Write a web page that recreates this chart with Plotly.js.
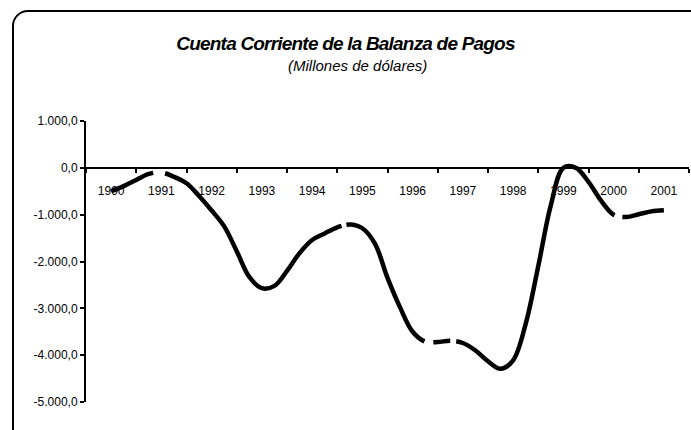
<!DOCTYPE html>
<html><head><meta charset="utf-8">
<script src="https://cdn.plot.ly/plotly-3.0.1.min.js"></script>
<style>
html,body{margin:0;padding:0;overflow:hidden;background:#fff;}
#chart{width:691px;height:430px;position:absolute;left:0;top:0;}
#frame{position:absolute;left:12px;top:10px;width:700px;height:440px;border:2px solid #000;border-radius:16px;pointer-events:none;}
.gtitle{letter-spacing:-0.8px;}
</style></head><body>
<div id="chart"></div><div id="frame"></div>
<script>
// Quarterly positions (years) and current account values (millions of dollars)
const quarterX = [
  1990.00, 1990.25, 1990.50, 1990.75,
  1991.00, 1991.25, 1991.50, 1991.75,
  1992.00, 1992.25, 1992.50, 1992.75,
  1993.00, 1993.25, 1993.50, 1993.75,
  1994.00, 1994.25, 1994.50, 1994.75,
  1995.00, 1995.25, 1995.50, 1995.75,
  1996.00, 1996.25, 1996.50, 1996.75,
  1997.00, 1997.25, 1997.50, 1997.75,
  1998.00, 1998.25, 1998.50, 1998.75,
  1999.00, 1999.25, 1999.50, 1999.75,
  2000.00, 2000.25, 2000.50, 2000.75,
  2001.00
];
const cuentaCorriente = [
  -500, -390, -260, -130,
  -100, -190, -330, -600,
  -910, -1250, -1780, -2330,
  -2570, -2520, -2200, -1820,
  -1540, -1400, -1270, -1210,
  -1290, -1620, -2350, -2980,
  -3500, -3710, -3720, -3690,
  -3740, -3900, -4130, -4290,
  -4110, -3330, -2100, -800,
  0, 0, -300, -700,
  -1000, -1050, -990, -930,
  -906
];
const yearTicks = [1990,1991,1992,1993,1994,1995,1996,1997,1998,1999,2000,2001];
const yearLabels = ['1990','1991','1992','1993','1994','1995','1996','1997','1998','1999','2000','2001'];
const yearBounds = [1989.5,1990.5,1991.5,1992.5,1993.5,1994.5,1995.5,1996.5,1997.5,1998.5,1999.5,2000.5,2001.5];
const yTickVals = [1000, 0, -1000, -2000, -3000, -4000, -5000];
const yTickText = ['1.000,0','0,0','-1.000,0','-2.000,0','-3.000,0','-4.000,0','-5.000,0'];

const FONT = 'Liberation Sans, Arial, sans-serif';
const yMin = -5000, yMax = 1000;

const trace = {
  x: quarterX, y: cuentaCorriente, type: 'scatter', mode: 'lines',
  line: {color: '#000', width: 4.5, dash: '46px,12px,260px,5px,148px,9px,17px,6px,343px,8px,200px', shape: 'spline', smoothing: 1},
  hoverinfo: 'skip', showlegend: false
};

const layout = {
  width: 691, height: 430,
  margin: {l: 86, r: 2, t: 121, b: 28, pad: 0},
  paper_bgcolor: '#fff', plot_bgcolor: 'rgba(0,0,0,0)',
  showlegend: false,
  title: {
    text: 'Cuenta Corriente de la Balanza de Pagos',
    font: {family: FONT, size: 19, color: '#000', weight: 'bold', style: 'italic'},
    x: 0.5, xref: 'container', xanchor: 'center',
    y: 1 - 43/430, yref: 'container', yanchor: 'middle'
  },
  annotations: [{
    text: '(Millones de dólares)', showarrow: false,
    xref: 'paper', yref: 'paper', x: (357-86)/603, y: (402-65)/281,
    xanchor: 'center', yanchor: 'middle',
    font: {family: FONT, size: 15, color: '#000', style: 'italic'}
  }],
  xaxis: {
    range: [1989.5, 2001.5], anchor: 'free', position: (0 - yMin)/(yMax - yMin),
    showline: true, linecolor: '#000', linewidth: 2,
    tickmode: 'array', tickvals: yearTicks, ticktext: yearLabels,
    ticks: '', showgrid: false, zeroline: false,
    ticklabelstandoff: 12,
    tickfont: {family: FONT, size: 12, color: '#000'},
    minor: {tickmode: 'array', tickvals: yearBounds, ticks: 'outside', ticklen: 4, tickwidth: 2, tickcolor: '#000', showgrid: false}
  },
  yaxis: {
    range: [yMin, yMax], showline: true, linecolor: '#000', linewidth: 2,
    tickmode: 'array', tickvals: yTickVals, ticktext: yTickText,
    ticks: 'outside', ticklen: 4, tickwidth: 2, tickcolor: '#000',
    showgrid: false, zeroline: false,
    tickfont: {family: FONT, size: 12, color: '#000'}
  }
};

Plotly.newPlot('chart', [trace], layout, {staticPlot: true, displayModeBar: false});
</script>
</body></html>
